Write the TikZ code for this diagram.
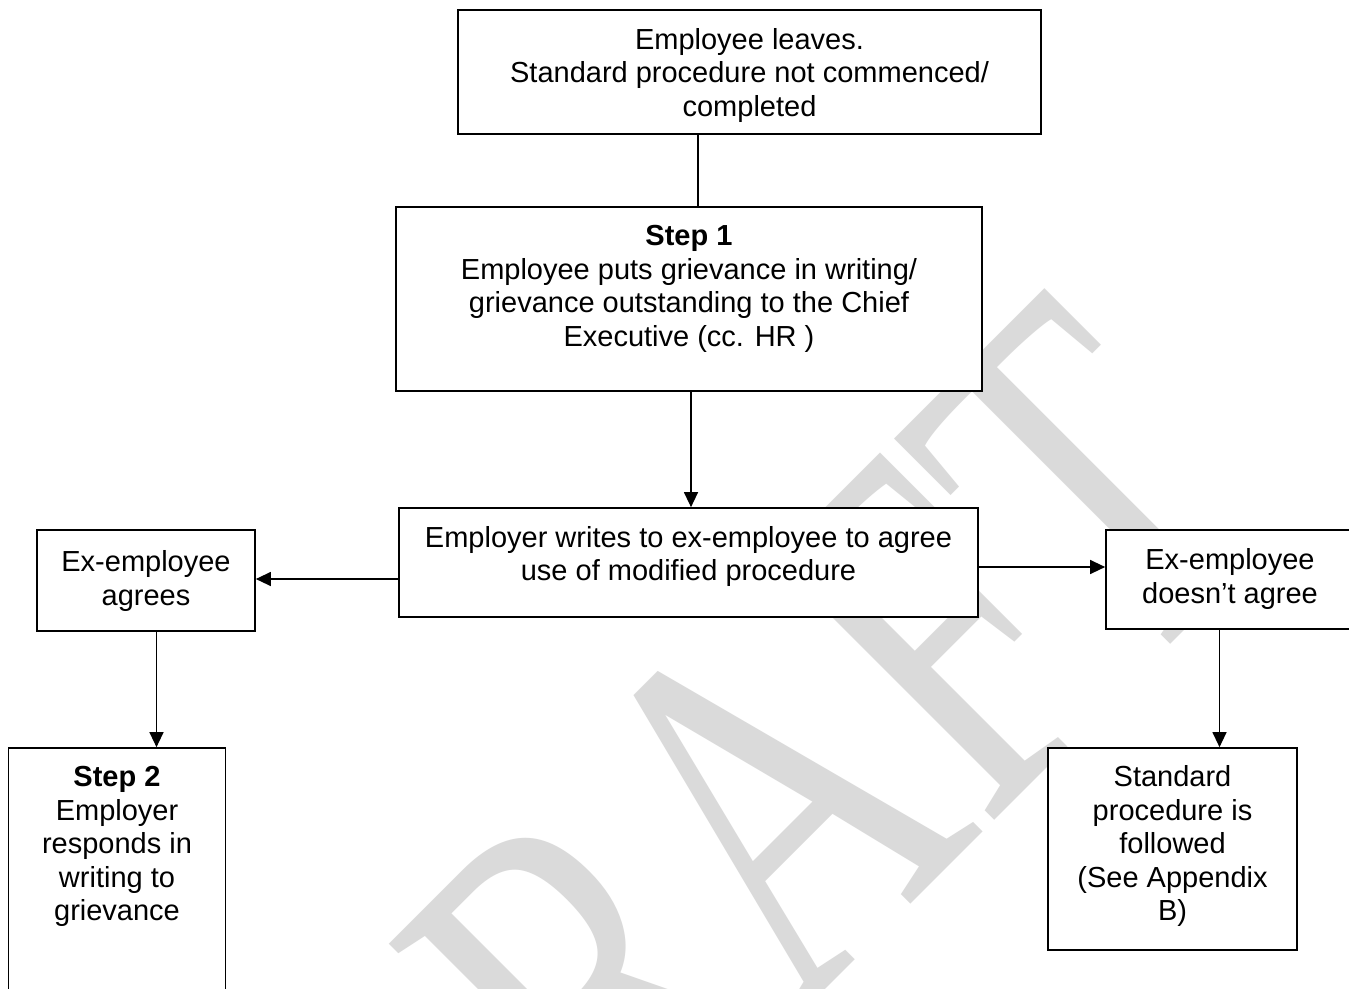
\documentclass[tikz,border=0pt]{standalone}
\usepackage{fontspec}
\setmainfont{Liberation Sans}
\newfontfamily\wmfont{Liberation Serif}
\usetikzlibrary{arrows.meta}
\definecolor{wmgray}{RGB}{218,218,218}
\tikzset{
  boxshape/.style={draw=black, line width=1.7pt, fill=white, rectangle, inner sep=0pt},
  labeltext/.style={align=center, inner sep=0pt, font=\fontsize{29}{33.5}\selectfont},
  conn/.style={line width=1.3pt},
  arr/.style={conn, -{Triangle[length=15pt,width=14pt]}},
  wm/.style={text=wmgray, inner sep=0pt, font=\wmfont\fontsize{520}{520}\selectfont}
}
\begin{document}
\begin{tikzpicture}[x=1pt,y=-1pt]
\useasboundingbox (0,0) rectangle (1349,988);
\clip (0,0) rectangle (1349,988);
\fill[white] (0,0) rectangle (1349,988);

% watermark
\node[wm, anchor=base west, rotate=45] (wmark) at (434,1381) {\scalebox{0.71}[1]{DRAFT}};

% boxes
\node[boxshape, minimum width=583pt, minimum height=124pt] (top) at (749.5,72) {};
\node[boxshape, minimum width=586pt, minimum height=184pt] (s1) at (689,299) {};
\node[boxshape, minimum width=579pt, minimum height=109pt] (mid) at (688.5,562.5) {};
\node[boxshape, minimum width=218pt, minimum height=101pt] (left) at (146,580.5) {};
\node[boxshape, minimum width=248pt, minimum height=99pt] (right) at (1230,579.5) {};
\node[boxshape, minimum width=217pt, minimum height=252pt] (s2) at (117,874) {};
\node[boxshape, minimum width=249pt, minimum height=202pt] (std) at (1172.5,849) {};

% texts
\node[labeltext] (topt) at (749.5,76) {\strut Employee leaves.\\Standard procedure not commenced/\\completed\strut};
\node[labeltext] (s1t) at (689,289.5) {\strut\textbf{Step 1}\\Employee puts grievance in writing/\\grievance outstanding to the Chief\\Executive (cc. HR )\strut};
\node[labeltext] (midt) at (688.5,557.5) {\strut Employer writes to ex-employee to agree\\use of modified procedure\strut};
\node[labeltext] (leftt) at (146,582) {\strut Ex-employee\\agrees\strut};
\node[labeltext] (rightt) at (1230,580) {\strut Ex-employee\\doesn’t agree\strut};
\node[labeltext] (s2t) at (117,847) {\strut\textbf{Step 2}\\Employer\\responds in\\writing to\\grievance\strut};
\node[labeltext] (stdt) at (1172.5,847) {\strut Standard\\procedure is\\followed\\(See Appendix\\B)\strut};

% connectors
\draw[conn] ([xshift=-51.5pt]top.south) -- ([xshift=-51.5pt]top.south |- s1.north);
\draw[arr] ([xshift=2pt]s1.south) -- ([xshift=2pt]s1.south |- mid.north);
\draw[arr] ([yshift=-16.5pt]mid.west) -- ([yshift=-16.5pt]mid.west -| left.east);
\draw[arr] ([yshift=-4.5pt]mid.east) -- ([yshift=-4.5pt]mid.east -| right.west);
\draw[arr] ([xshift=10.5pt]left.south) -- ([xshift=10.5pt]left.south |- s2.north);
\draw[arr] ([xshift=-10.5pt]right.south) -- ([xshift=-10.5pt]right.south |- std.north);
\end{tikzpicture}
\end{document}
